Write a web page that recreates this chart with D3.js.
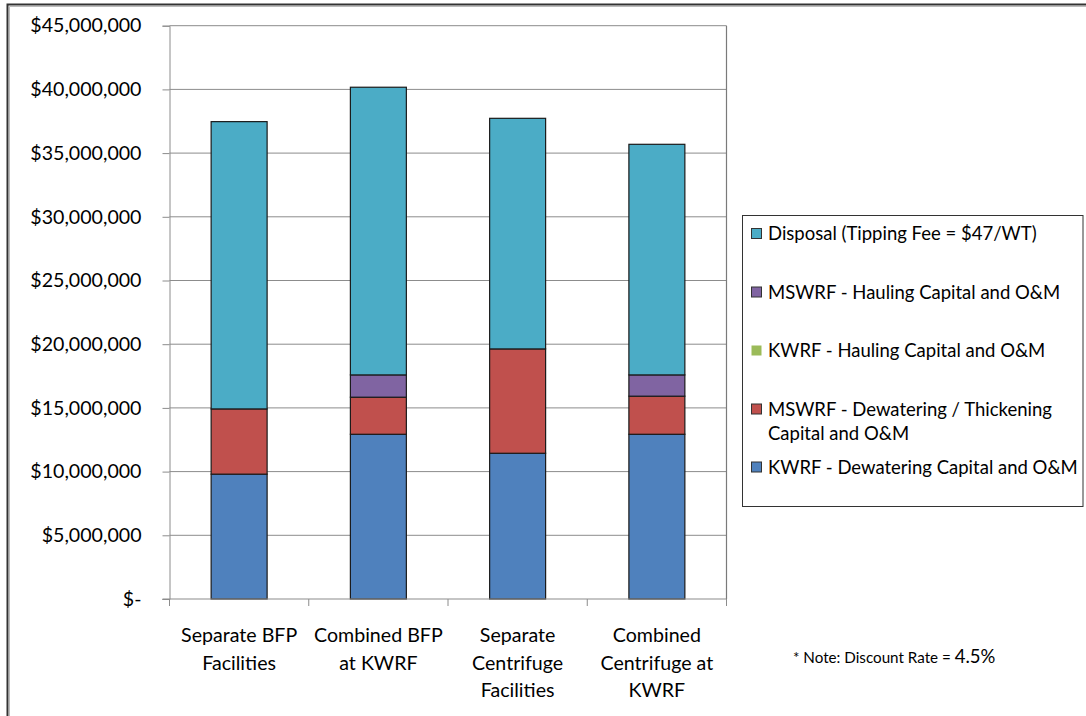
<!DOCTYPE html>
<html>
<head>
<meta charset="utf-8">
<script src="https://cdn.jsdelivr.net/npm/d3@7"></script>
<style>
  html, body { margin: 0; padding: 0; background: #fff; }
  svg { display: block; }
  text { font-family: Lato, "Open Sans", sans-serif; fill: #000; }
</style>
</head>
<body>
<svg id="chart" width="1086" height="716"></svg>
<script>
// Scenario categories (x axis), each label split over lines
const categories = [
  ["Separate BFP", "Facilities"],
  ["Combined BFP", "at KWRF"],
  ["Separate", "Centrifuge", "Facilities"],
  ["Combined", "Centrifuge at", "KWRF"]
];

// Present-worth cost components per scenario, in dollars (bottom to top)
const kwrfDewatering   = [9800000, 12930000, 11440000, 12930000];
const mswrfDewatering  = [5120000, 2910000, 8190000, 2990000];
const kwrfHauling      = [0, 0, 0, 0];
const mswrfHauling     = [0, 1750000, 0, 1670000];
const disposal         = [22550000, 22580000, 18100000, 18100000];

const seriesNames = [
  "KWRF - Dewatering Capital and O&M",
  "MSWRF - Dewatering / Thickening Capital and O&M",
  "KWRF - Hauling Capital and O&M",
  "MSWRF - Hauling Capital and O&M",
  "Disposal (Tipping Fee = $47/WT)"
];
const seriesColors = ["#4F81BD", "#C0504D", "#9BBB59", "#8064A2", "#4BACC6"];

const yTicks = [0, 5e6, 10e6, 15e6, 20e6, 25e6, 30e6, 35e6, 40e6, 45e6];

// Legend entries, top to bottom, with wrapped lines
const legendItems = [
  { idx: 4, lines: ["Disposal (Tipping Fee = $47/WT)"] },
  { idx: 3, lines: ["MSWRF - Hauling Capital and O&M"] },
  { idx: 2, lines: ["KWRF - Hauling Capital and O&M"] },
  { idx: 1, lines: ["MSWRF - Dewatering / Thickening", "Capital and O&M"] },
  { idx: 0, lines: ["KWRF - Dewatering Capital and O&M"] }
];

const svg = d3.select("#chart");

// Outer frame (top and left edges)
svg.append("path")
  .attr("d", "M7.5,716 V4.5 H1086")
  .attr("fill", "none").attr("stroke", "#333").attr("stroke-width", 2);
svg.append("path")
  .attr("d", "M9.5,716 V6.5 H1086")
  .attr("fill", "none").attr("stroke", "#bbb").attr("stroke-width", 1);

const plot = { left: 169.5, right: 726.5, top: 25.7, bottom: 599 };

const x = d3.scaleBand()
  .domain(d3.range(categories.length))
  .range([plot.left, plot.right])
  .paddingInner(0.598)
  .paddingOuter(0.299);

const y = d3.scaleLinear().domain([0, 45e6]).range([plot.bottom, plot.top]);

// Horizontal gridlines
svg.append("g").selectAll("line")
  .data(yTicks.filter(d => d > 0))
  .join("line")
  .attr("x1", plot.left).attr("x2", plot.right)
  .attr("y1", d => y(d)).attr("y2", d => y(d))
  .attr("stroke", "#8c8c8c").attr("stroke-width", 1);

// Right edge of plot area
svg.append("line")
  .attr("x1", plot.right).attr("x2", plot.right)
  .attr("y1", plot.top).attr("y2", plot.bottom)
  .attr("stroke", "#7a7a7a").attr("stroke-width", 1.2);

// Stacked bars
const rows = categories.map((c, i) => ({
  i,
  s0: kwrfDewatering[i], s1: mswrfDewatering[i], s2: kwrfHauling[i],
  s3: mswrfHauling[i], s4: disposal[i]
}));
const stack = d3.stack().keys(["s0", "s1", "s2", "s3", "s4"]);
const layers = stack(rows);

svg.append("g").selectAll("g")
  .data(layers)
  .join("g")
  .attr("fill", (d, k) => seriesColors[k])
  .selectAll("rect")
  .data(d => d.filter(p => p[1] - p[0] > 0))
  .join("rect")
  .attr("x", d => x(d.data.i))
  .attr("width", x.bandwidth())
  .attr("y", d => y(d[1]))
  .attr("height", d => y(d[0]) - y(d[1]))
  .attr("stroke", "#1a1a1a").attr("stroke-width", 1.2);

// Y axis
const yAxis = d3.axisLeft(y)
  .tickValues(yTicks)
  .tickSize(7)
  .tickPadding(21)
  .tickFormat(d => d === 0 ? "$-" : "$" + d3.format(",")(d));
const gy = svg.append("g").attr("transform", `translate(${plot.left},0)`).call(yAxis);
gy.select(".domain").attr("stroke", "#8c8c8c");
gy.selectAll(".tick line").attr("stroke", "#8c8c8c");
gy.selectAll(".tick text")
  .style("font-family", "Lato, sans-serif")
  .style("font-size", "19.6px")
  .attr("fill", "#000");

// X axis baseline and category boundary ticks
svg.append("line")
  .attr("x1", plot.left - 7).attr("x2", plot.right)
  .attr("y1", plot.bottom).attr("y2", plot.bottom)
  .attr("stroke", "#8c8c8c").attr("stroke-width", 1.2);
const step = x.step();
svg.append("g").selectAll("line")
  .data(d3.range(categories.length + 1))
  .join("line")
  .attr("x1", d => plot.left + d * step).attr("x2", d => plot.left + d * step)
  .attr("y1", plot.bottom).attr("y2", plot.bottom + 7)
  .attr("stroke", "#8c8c8c").attr("stroke-width", 1);

// Category labels
const xl = svg.append("g").selectAll("text")
  .data(categories)
  .join("text")
  .attr("text-anchor", "middle")
  .style("font-size", "19.6px")
  .attr("x", (d, i) => x(i) + x.bandwidth() / 2)
  .attr("y", 642);
xl.selectAll("tspan")
  .data(d => d)
  .join("tspan")
  .attr("x", function () { return d3.select(this.parentNode).attr("x"); })
  .attr("dy", (d, j) => j === 0 ? 0 : 27.5)
  .text(d => d);

// Legend
const lg = svg.append("g");
lg.append("rect")
  .attr("x", 742.5).attr("y", 215.5).attr("width", 340.5).attr("height", 291)
  .attr("fill", "#fff").attr("stroke", "#333").attr("stroke-width", 1);
const rowY = [233.5, 292, 350.5, 409, 467];
legendItems.forEach((it, r) => {
  lg.append("rect")
    .attr("x", 751.5).attr("y", rowY[r] - 5).attr("width", 10).attr("height", 10)
    .attr("fill", seriesColors[it.idx])
    .attr("stroke", it.idx === 2 ? "none" : "#333").attr("stroke-width", 1);
  const t = lg.append("text")
    .attr("x", 768).attr("y", rowY[r] + 6.5)
    .style("font-size", "18.5px");
  it.lines.forEach((ln, j) => {
    t.append("tspan").attr("x", 768).attr("dy", j === 0 ? 0 : 24.5).text(ln);
  });
});

// Footnote
const note = svg.append("text").attr("x", 793).attr("y", 662.5).style("font-size", "15.2px");
note.append("tspan").text("* Note: Discount Rate  = ");
note.append("tspan").style("font-size", "18.5px").text("4.5%");
</script>
</body>
</html>
